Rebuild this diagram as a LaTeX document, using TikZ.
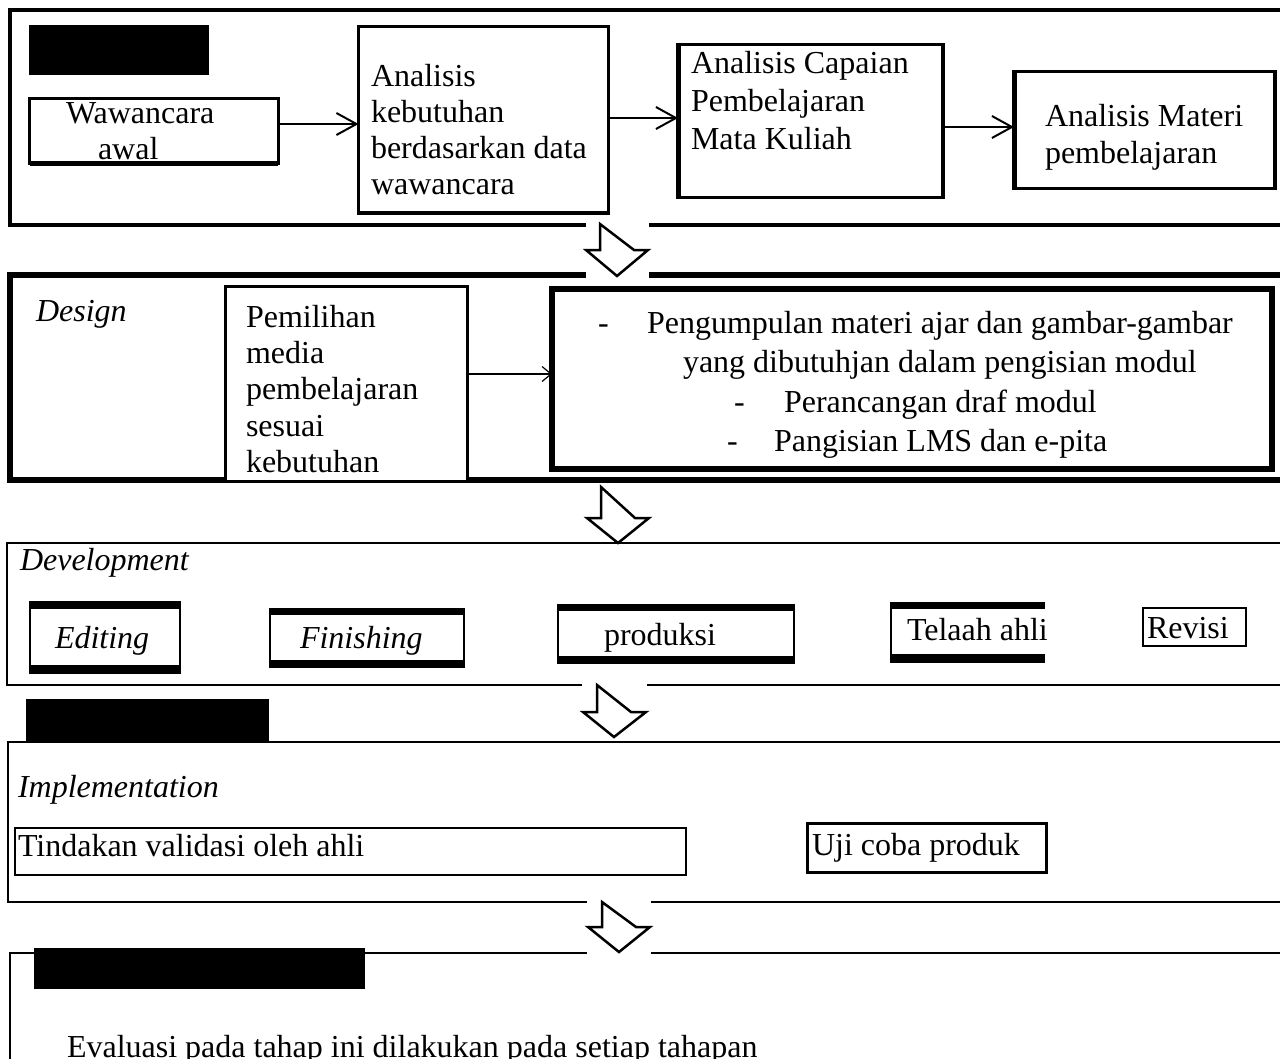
\documentclass[tikz,border=0pt]{standalone}
\usepackage{fontspec}
\setmainfont{Liberation Serif}
\usetikzlibrary{arrows.meta}
\newcommand\myfs{\fontsize{32}{36}\selectfont}
\begin{document}
\begin{tikzpicture}[x=1pt,y=-1pt,
  txt/.style={anchor=base west,inner sep=0pt,outer sep=0pt,font=\myfs},
  itx/.style={anchor=base west,inner sep=0pt,outer sep=0pt,font=\myfs\itshape},
  box/.style={draw,fill=white,anchor=north west,inner sep=0pt,outer sep=0pt,line width=#1},
  box/.default=2pt,
  conn/.style={line width=2pt,-{Straight Barb[length=20pt,width=22pt,line width=2pt]}},
  thinconn/.style={line width=1.2pt,-{Straight Barb[length=9pt,width=15pt,line width=1.2pt]}},
  blk/.style={draw,fill=white,line width=2.5pt,line join=miter},
  redact/.style={fill=black}]
\useasboundingbox (0,0) rectangle (1280,1058);

% ---------- panels ----------
\draw[line width=3.5pt] (1300,10) -- (10,10) -- (10,225) -- (1300,225);
\draw[line width=6pt] (1300,275) -- (10,275) -- (10,480) -- (1300,480);
\draw[line width=2pt] (1300,543) -- (7,543) -- (7,685) -- (1300,685);
\draw[line width=2.5pt] (1300,742) -- (8,742) -- (8,902) -- (1300,902);
\draw[line width=2pt] (1300,953) -- (10,953) -- (10,1080);

% ---------- white gaps for block arrows ----------
\fill[white] (586,221) rectangle (649,279);
\fill[white] (582,682) rectangle (647,690);
\fill[white] (587,899) rectangle (651,956);

% ---------- block arrows ----------
\draw[blk] (600,224) -- (600,250) -- (586,250) -- (617,276) -- (648,250) -- (634,250) -- cycle;
\draw[blk] (601,487) -- (601,518) -- (587,518) -- (618,543) -- (649,518) -- (635,518) -- cycle;
\draw[blk] (597,685) -- (597,712) -- (583,712) -- (614,737) -- (646,712) -- (631,712) -- cycle;
\draw[blk] (602,902) -- (602,927) -- (588,927) -- (619,952) -- (650,927) -- (636,927) -- cycle;

% ---------- redactions ----------
\fill[redact] (29,25) rectangle (209,75);
\fill[redact] (26,699) rectangle (269,741);
\fill[redact] (34,948) rectangle (365,989);

% ---------- panel 1 ----------
\node[box=3pt,minimum width=248.5pt,minimum height=64.5pt] (waw) at (29.5,98.5) {};
\draw[line width=5pt] (waw.south west) -- (waw.south east);
\node[txt] (wawt1) at (66,123) {Wawancara};
\node[txt] (wawt2) at (98,159) {awal};

\node[box=3.5pt,minimum width=250pt,minimum height=186.5pt] (ana) at (358.5,26.5) {};
\node[txt] (anat1) at (371,86) {Analisis};
\node[txt] (anat2) at (371,122) {kebutuhan};
\node[txt] (anat3) at (371,158) {berdasarkan data};
\node[txt] (anat4) at (371,194) {wawancara};

\node[box=3.5pt,minimum width=265pt,minimum height=153pt] (cap) at (678,44.5) {};
\draw[line width=5pt] (cap.north west) -- (cap.south west);
\node[txt] (capt1) at (691,73) {Analisis Capaian};
\node[txt] (capt2) at (691,111) {Pembelajaran};
\node[txt] (capt3) at (691,149) {Mata Kuliah};

\node[box=3.5pt,minimum width=261pt,minimum height=117pt] (mat) at (1014,71.5) {};
\draw[line width=5pt] (mat.north west) -- (mat.south west);
\node[txt] (matt1) at (1045,126) {Analisis Materi};
\node[txt] (matt2) at (1045,163) {pembelajaran};

\coordinate (y1) at (0,124);
\coordinate (y2) at (0,118);
\coordinate (y3) at (0,127);
\draw[conn] (waw.east |- y1) -- (ana.west |- y1);
\draw[conn] (ana.east |- y2) -- (cap.west |- y2);
\draw[conn] (cap.east |- y3) -- (mat.west |- y3);

% ---------- panel 2 ----------
\node[itx] (des) at (36,321) {Design};
\node[box=3pt,minimum width=241.5pt,minimum height=194.5pt] (pem) at (225.5,286.5) {};
\node[txt] (pemt1) at (246,327) {Pemilihan};
\node[txt] (pemt2) at (246,363) {media};
\node[txt] (pemt3) at (246,399) {pembelajaran};
\node[txt] (pemt4) at (246,436) {sesuai};
\node[txt] (pemt5) at (246,472) {kebutuhan};

\node[box=6pt,minimum width=720pt,minimum height=180pt] (big) at (552,289) {};
\node[txt] (bigd1) at (598,333) {-};
\node[txt] (bigt1) at (647,333) {Pengumpulan materi ajar dan gambar-gambar};
\node[txt] (bigt2) at (683,372) {yang dibutuhjan dalam pengisian modul};
\node[txt] (bigd3) at (734,412) {-};
\node[txt] (bigt3) at (784,412) {Perancangan draf modul};
\node[txt] (bigd4) at (727,451) {-};
\node[txt] (bigt4) at (774,451) {Pangisian LMS dan e-pita};

\coordinate (y4) at (0,374);
\draw[thinconn] (pem.east |- y4) -- (big.west |- y4);

% ---------- panel 3 ----------
\node[itx] (dev) at (20,570) {Development};

\node[box=2pt,minimum width=150pt,minimum height=71pt] (edi) at (30,601.5) {};
\fill (29,601) rectangle (181,609);
\fill (29,665) rectangle (181,673);
\node[itx] (edit) at (55,648) {Editing};

\node[box=2pt,minimum width=194pt,minimum height=58pt] (fin) at (270,608.5) {};
\fill (269,608) rectangle (465,615);
\fill (269,660) rectangle (465,667);
\node[itx] (fint) at (300,648) {Finishing};

\node[box=2pt,minimum width=236pt,minimum height=58pt] (pro) at (558,604.5) {};
\fill (557,604) rectangle (795,611);
\fill (557,656) rectangle (795,663);
\node[txt] (prot) at (604,645) {produksi};

\node[anchor=north west,inner sep=0pt,outer sep=0pt,minimum width=154pt,minimum height=59pt] (tel) at (891,602.5) {};
\draw[line width=2pt] (tel.north east) -- (tel.north west) -- (tel.south west) -- (tel.south east);
\fill (890,602) rectangle (1045,609);
\fill (890,654) rectangle (1045,662);
\node[txt] (telt) at (907,640) {Telaah ahli};

\node[box=2pt,minimum width=103pt,minimum height=38pt] (rev) at (1143,608) {};
\node[txt] (revt) at (1147,638) {Revisi};

% ---------- panel 4 ----------
\node[itx] (imp) at (18,797) {Implementation};
\node[box=2pt,minimum width=671pt,minimum height=47pt] (tin) at (15,827.5) {};
\node[txt] (tint) at (18,856) {Tindakan validasi oleh ahli};
\node[box=2.5pt,minimum width=239pt,minimum height=49pt] (uji) at (807.5,823.5) {};
\node[txt] (ujit) at (812,855) {Uji coba produk};

% ---------- panel 5 ----------
\node[txt] (eva) at (67,1057) {Evaluasi pada tahap ini dilakukan pada setiap tahapan};
\end{tikzpicture}
\end{document}
